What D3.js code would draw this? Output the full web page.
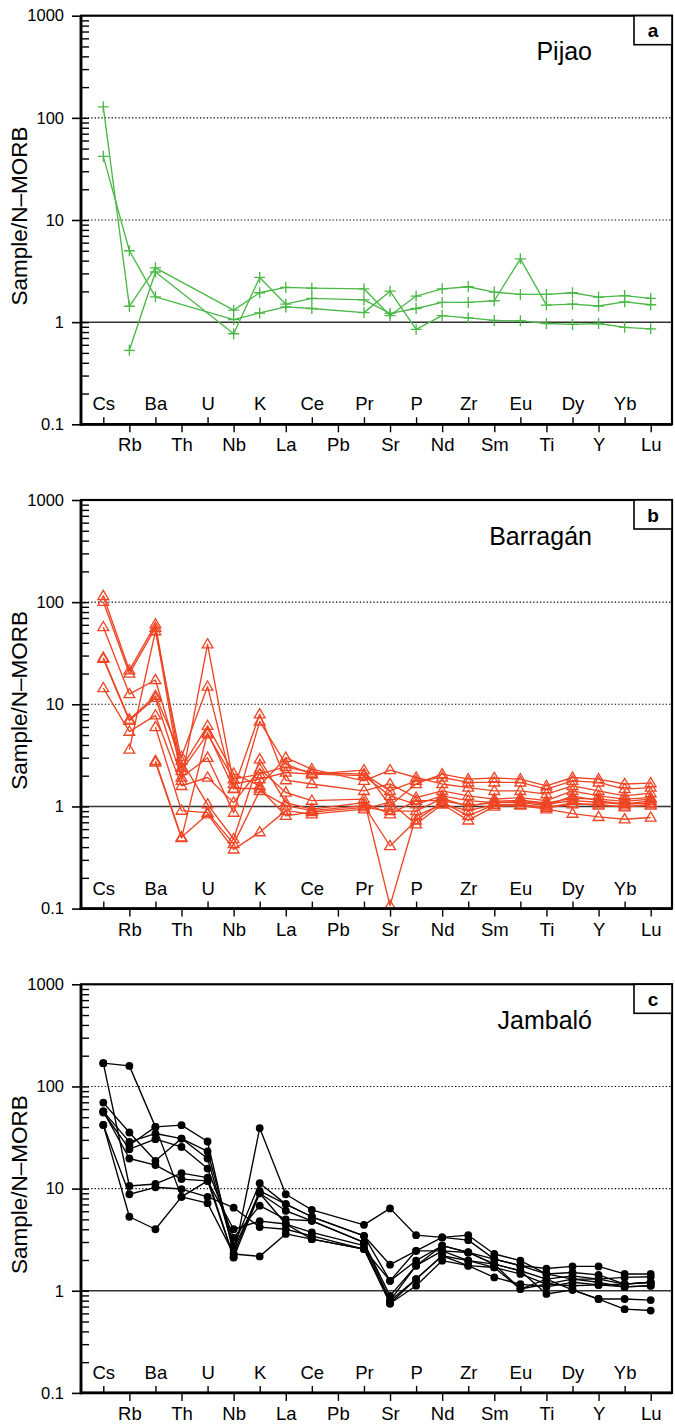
<!DOCTYPE html>
<html>
<head>
<meta charset="utf-8">
<script src="https://cdn.jsdelivr.net/npm/d3@7"></script>
<style>
  html, body { margin: 0; padding: 0; background: #fff; }
  svg { display: block; }
  text { font-family: "Liberation Sans", Arial, Helvetica, sans-serif; fill: #000; }
</style>
</head>
<body>
<svg id="chart" width="675" height="1426"></svg>
<script>
// N-MORB normalised multi-element patterns
const elements = ["Cs","Rb","Ba","Th","U","Nb","K","La","Ce","Pb","Pr","Sr","P","Nd","Zr","Sm","Eu","Ti","Dy","Y","Yb","Lu"];

const yTickValues = [0.1, 1, 10, 100, 1000];
const yTickLabels = ["0.1", "1", "10", "100", "1000"];
const gridValues = [10, 100];

// Pijao samples (Th, U, Pb not analysed)
//            Cs    Rb    Ba    Th    U     Nb    K     La    Ce    Pb    Pr    Sr    P     Nd    Zr    Sm    Eu    Ti    Dy    Y     Yb    Lu
const pijao = [
  [128,  1.43, 3.4,  null, null, 1.31, 1.94, 2.19, 2.15, null, 2.12, 1.16, 1.80, 2.12, 2.22, 1.97, 1.87, 1.87, 1.94, 1.76, 1.82, 1.71],
  [null, 0.53, 3.1,  null, null, 0.77, 2.74, 1.50, 1.71, null, 1.65, 1.22, 1.36, 1.56, 1.56, 1.62, 4.17, 1.47, 1.50, 1.44, 1.58, 1.48],
  [42,   5.0,  1.77, null, null, 1.06, 1.23, 1.41, 1.36, null, 1.24, 2.01, 0.85, 1.16, 1.10, 1.04, 1.03, 0.97, 0.95, 0.97, 0.89, 0.86]
];

// Barragán samples
const barragan = [
  [115,  21.5, 60.7, 2.23, 5.1,  1.85, 2.07, 2.44, 2.15, null, 2.07, 1.42, 1.78, 1.92, 1.72, 1.72, 1.72, 1.48, 1.78, 1.72, 1.48, 1.53],
  [101,  20,   56,   1.78, 38.7, 1.66, 1.85, 2.15, 2.07, null, 2.27, 1.02, 1.66, 2.07, 1.85, 1.90, 1.85, 1.59, 1.92, 1.85, 1.66, 1.69],
  [57,   12.6, 17.3, 2.4,  6.15, 2.10, 1.59, 3.0,  2.32, null, 1.78, 2.27, 1.92, 1.66, 1.53, 1.42, 1.42, 1.32, 1.59, 1.42, 1.27, 1.35],
  [28.6, 7.1,  12.1, 3.06, 14.9, 1.48, 8.0,  1.81, 1.66, null, 1.42, 1.66, 1.22, 1.42, 1.27, 1.18, 1.22, 1.14, 1.42, 1.27, 1.18, 1.22],
  [27.9, 6.9,  11.6, 1.92, 3.0,  0.87, 6.8,  2.6,  2.07, null, 2.0,  1.27, 1.05, 1.27, 1.14, 1.09, 1.09, 1.02, 1.27, 1.14, 1.05, 1.14],
  [14.4, 5.4,  7.8,  1.59, 1.92, 1.09, 2.32, 1.37, 1.14, null, 1.18, 0.107,0.81, 1.05, 0.91, 1.04, 1.04, 0.97, 1.05, 1.05, 0.98, 1.05],
  [null, 3.6,  52,   2.8,  1.05, 0.48, 2.9,  1.09, 0.94, null, 1.09, 0.84, 1.14, 1.14, 1.02, 1.09, 1.12, 1.05, 1.14, 1.10, 1.05, 1.08],
  [null, null, 6.0,  0.91, 0.87, 0.43, 1.42, 1.02, 0.91, null, 1.02, 0.41, 0.73, 1.10, 0.81, 1.04, 1.04, 0.98, 1.08, 1.02, 1.00, 1.02],
  [null, null, 2.8,  0.50, 0.84, 0.38, 0.56, 0.91, 0.84, null, 0.94, 1.10, 0.67, 1.05, 0.73, 1.00, 1.02, 0.94, 0.85, 0.79, 0.75, 0.78],
  [null, null, 2.7,  0.49, 5.3,  1.50, 1.50, 0.81, 0.88, null, 0.98, 0.90, 0.90, 1.20, 1.00, 1.12, 1.15, 1.08, 1.20, 1.18, 1.12, 1.18]
];

// Jambaló samples
const jambalo = [
  [169,  159,  40.2, 41.8, 28.9, 2.29, 9.5,  7.05, 5.3,  null, 3.45, 1.80, 2.46, 3.33, 3.50, 2.29, 1.97, 1.46, 1.51, 1.43, 1.16, 1.21],
  [169,  10.6, 11.1, 14.2, 12.8, 2.12, 39.1, 8.8,  6.2,  null, 4.42, 6.4,  3.50, 3.33, 3.13, 2.04, 1.76, 1.65, 1.73, 1.73, 1.46, 1.46],
  [69.5, 35.4, 18.7, 30.9, 23.1, 2.76, 11.3, 7.05, 5.3,  null, 3.45, 1.25, 1.97, 2.76, 2.37, 1.82, 1.57, 1.30, 1.40, 1.30, 1.35, 1.37],
  [57,   28.7, 34.6, 30.9, 19.7, 2.56, 9.0,  6.07, 4.84, null, 2.97, 0.89, 1.76, 2.46, 1.97, 1.69, 1.46, 1.16, 1.30, 1.21, 1.09, 1.12],
  [55.6, 24.3, 30.5, 25.6, 15.7, 3.3,  6.8,  5.0,  4.84, null, 2.97, 0.80, 1.30, 2.20, 1.76, 1.35, 1.16, 1.09, 1.21, 1.14, 1.16, 1.21],
  [57,   19.7, 17,   12.4, 11.9, 4.0,  4.8,  4.5,  3.72, null, 2.76, 0.75, 1.12, 1.97, 1.76, 1.69, 1.04, 1.16, 1.12, 1.14, 1.09, 1.12],
  [42,   8.8,  10.3, 9.9,  8.3,  6.5,  4.2,  4.0,  3.45, null, 2.56, 1.25, 2.46, 2.46, 2.37, 1.82, 1.57, 0.93, 1.02, 0.83, 0.83, 0.81],
  [42,   5.3,  4.0,  8.3,  7.2,  2.29, 2.17, 3.6,  3.2,  null, 2.56, 0.75, 1.30, 2.20, 1.97, 1.82, 1.04, 1.30, 1.02, 0.83, 0.66, 0.64],
  [null, 26.6, 40.2, 8.3,  11.9, 2.12, 9.0,  4.5,  3.2,  null, 2.56, 0.80, 1.76, 2.76, 2.37, 2.04, 1.76, 1.46, 1.30, 1.30, 1.16, 1.21]
];

const panels = [
  { letter: "a", title: "Pijao",    data: pijao,    color: "#4cb848", marker: "plus",     top: 15.7 },
  { letter: "b", title: "Barragán", data: barragan, color: "#ee4524", marker: "triangle", top: 500 },
  { letter: "c", title: "Jambaló",  data: jambalo,  color: "#000000", marker: "circle",   top: 984.3 }
];

const svg = d3.select("#chart");
const left = 81, right = 672, plotH = 408.6;
const x = d3.scalePoint().domain(elements).range([103.3, 650.7]).padding(0);

const minorValues = [];
[0.1, 1, 10, 100].forEach(d => { for (let k = 2; k <= 9; k++) minorValues.push(+(d * k).toPrecision(3)); });

panels.forEach(p => {
  const top = p.top, bottom = top + plotH;
  const y = d3.scaleLog().domain([0.1, 1000]).range([bottom, top]);
  const g = svg.append("g");

  // dotted guide lines at 10 and 100
  g.selectAll("line.grid").data(gridValues).join("line")
    .attr("x1", left).attr("x2", right)
    .attr("y1", d => y(d)).attr("y2", d => y(d))
    .attr("stroke", "#000").attr("stroke-width", 1.1)
    .attr("stroke-dasharray", "1.3,2.1");

  // reference line at 1
  g.append("line")
    .attr("x1", left).attr("x2", right)
    .attr("y1", y(1)).attr("y2", y(1))
    .attr("stroke", "#333").attr("stroke-width", 1.5);

  // data series
  const line = d3.line().x(d => x(d.el)).y(d => y(d.v));
  p.data.forEach(row => {
    const pts = row.map((v, i) => ({ el: elements[i], v })).filter(d => d.v != null);
    g.append("path").datum(pts)
      .attr("d", line)
      .attr("fill", "none").attr("stroke", p.color).attr("stroke-width", 1.35)
      .attr("stroke-linejoin", "round");
    const m = g.append("g");
    if (p.marker === "plus") {
      m.selectAll("path").data(pts).join("path")
        .attr("d", d => { const cx = x(d.el), cy = y(d.v); return `M${cx-5.5},${cy}H${cx+5.5}M${cx},${cy-5.5}V${cy+5.5}`; })
        .attr("stroke", p.color).attr("stroke-width", 1.35).attr("fill", "none");
    } else if (p.marker === "triangle") {
      m.selectAll("path").data(pts).join("path")
        .attr("d", d => { const cx = x(d.el), cy = y(d.v); return `M${cx},${cy-5.6}L${cx+5.4},${cy+3.6}L${cx-5.4},${cy+3.6}Z`; })
        .attr("stroke", p.color).attr("stroke-width", 1.3).attr("fill", "none");
    } else {
      m.selectAll("circle").data(pts).join("circle")
        .attr("cx", d => x(d.el)).attr("cy", d => y(d.v)).attr("r", 3.9)
        .attr("fill", p.color);
    }
  });

  // y axis: major ticks outward, minor ticks inward
  const yMajor = d3.axisLeft(y).tickValues(yTickValues)
    .tickFormat((d, i) => yTickLabels[i]).tickSize(9).tickPadding(8);
  const ya = g.append("g").attr("transform", `translate(${left},0)`).call(yMajor);
  ya.select(".domain").remove();
  ya.selectAll("line").attr("stroke", "#000").attr("stroke-width", 1.6);
  ya.selectAll("text").attr("font-size", 16.5).style("font-family", "Liberation Sans, Arial, sans-serif");

  const yMinor = d3.axisRight(y).tickValues(minorValues.concat([1, 10, 100])).tickSize(8).tickFormat("");
  const ym = g.append("g").attr("transform", `translate(${left},0)`).call(yMinor);
  ym.select(".domain").remove();
  ym.selectAll("line").attr("stroke", "#000").attr("stroke-width", 1.4);

  // x axis: alternating inner and outer labels
  const evens = elements.filter((d, i) => i % 2 === 0);
  const odds = elements.filter((d, i) => i % 2 === 1);
  const xIn = d3.axisBottom(x).tickValues(evens).tickSize(-7);
  const xi = g.append("g").attr("transform", `translate(0,${bottom})`).call(xIn);
  xi.select(".domain").remove();
  xi.selectAll("line").attr("stroke", "#000").attr("stroke-width", 1.4);
  xi.selectAll("text").attr("y", -14).attr("dy", 0).attr("font-size", 18.5)
    .style("font-family", "Liberation Sans, Arial, sans-serif");

  const xOut = d3.axisBottom(x).tickValues(odds).tickSize(8);
  const xo = g.append("g").attr("transform", `translate(0,${bottom})`).call(xOut);
  xo.select(".domain").remove();
  xo.selectAll("line").attr("stroke", "#000").attr("stroke-width", 1.4);
  xo.selectAll("text").attr("y", 27).attr("dy", 0).attr("font-size", 18.5)
    .style("font-family", "Liberation Sans, Arial, sans-serif");

  // frame
  g.append("rect")
    .attr("x", left).attr("y", top).attr("width", right - left).attr("height", plotH)
    .attr("fill", "none").attr("stroke", "#000").attr("stroke-width", 2.2);
  g.append("line").attr("x1", left).attr("x2", left).attr("y1", top).attr("y2", bottom + 1.3)
    .attr("stroke", "#000").attr("stroke-width", 2.8);
  g.append("line").attr("x1", left - 1.3).attr("x2", right).attr("y1", bottom).attr("y2", bottom)
    .attr("stroke", "#000").attr("stroke-width", 2.8);

  // panel letter box
  g.append("rect")
    .attr("x", 634).attr("y", top).attr("width", right - 634).attr("height", 29)
    .attr("fill", "#fff").attr("stroke", "#000").attr("stroke-width", 1.6);
  g.append("text").attr("x", 653).attr("y", top + 21.5)
    .attr("text-anchor", "middle").attr("font-size", 19).attr("font-weight", "bold")
    .text(p.letter);

  // suite name
  g.append("text").attr("x", 592).attr("y", top + 44.5)
    .attr("text-anchor", "end").attr("font-size", 25)
    .text(p.title);

  // y axis title
  g.append("text")
    .attr("transform", `translate(27,${top + plotH / 2 - 4}) rotate(-90)`)
    .attr("text-anchor", "middle").attr("font-size", 22.5)
    .text("Sample/N–MORB");
});
</script>
</body>
</html>
